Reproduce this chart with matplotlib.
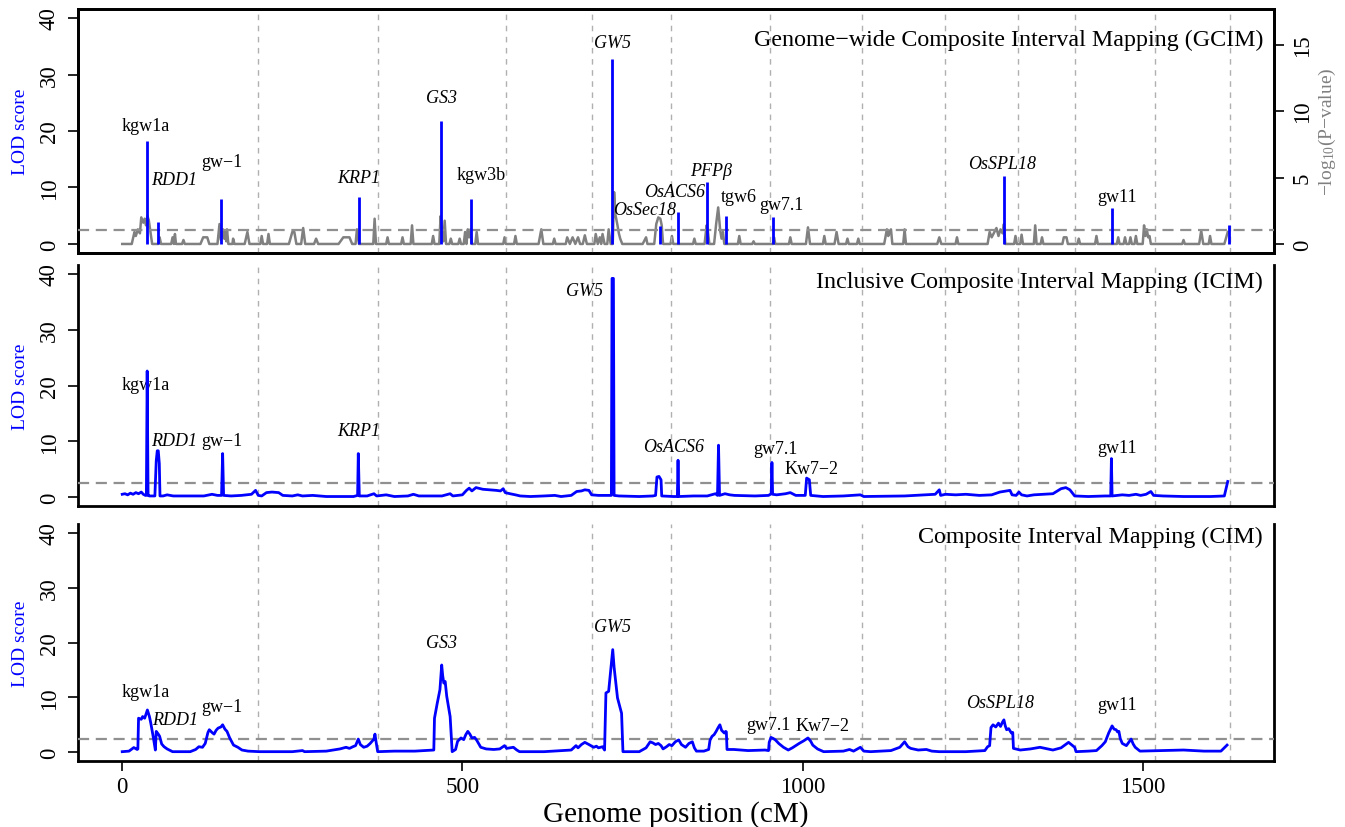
import matplotlib
matplotlib.use('Agg')
import matplotlib.pyplot as plt

plt.rcParams['font.family'] = ['Liberation Serif', 'DejaVu Serif']
plt.rcParams['mathtext.fontset'] = 'custom'
plt.rcParams['mathtext.rm'] = 'Liberation Serif'
plt.rcParams['mathtext.it'] = 'Liberation Serif:italic'

# chromosome ends (cM), dashed separators
chrom_ends = [200, 376, 564, 691, 807, 952, 1087, 1209, 1316, 1401, 1518, 1628]
threshold = 2.5

# GCIM: QTL LOD (blue sticks)
gcim_qtl_pos = [36.8, 53, 145.6, 348.5, 469, 512, 720.6, 791, 817.6, 859, 888, 956, 1296, 1454.6, 1627]
gcim_qtl_lod = [18.2, 3.9, 8.0, 8.4, 21.8, 7.9, 32.8, 3.2, 5.7, 10.9, 5.0, 4.7, 12.1, 6.4, 3.3]

# GCIM: -log10(P) profile (grey, right axis)
gcim_prof_pos = [0, 14, 18, 20, 23, 26, 28, 31, 33, 35, 37, 39, 41, 44, 53, 55, 57, 72, 74, 76, 77.5, 79,
                 88, 90, 92, 115, 119, 125, 128, 140, 143, 145, 148, 150, 151, 153, 154, 156, 162, 163, 165,
                 180, 184, 187, 203, 205, 207, 213, 215, 217, 245, 250, 253, 256, 263, 266, 269, 282, 285, 288,
                 318, 325, 334, 338, 343, 345, 348, 369, 371, 373, 388, 390, 392, 410, 412, 414, 424, 426, 428,
                 455, 457, 459, 466, 468, 470, 472, 474, 476, 481, 483, 485, 494, 496, 498, 502, 504, 506, 508,
                 510, 512, 514, 519, 521, 523, 560, 562, 564, 576, 578, 580, 612, 616, 619, 633, 635, 637, 652,
                 654, 658, 662, 666, 670, 673, 677, 680, 683, 694, 696, 699, 702, 704, 706, 709, 713, 715, 718,
                 721, 723, 725, 728, 730, 732, 735, 765, 770, 772, 782, 785, 788, 791, 793, 795, 806, 808, 810,
                 839, 841, 843, 856, 859, 861, 863, 870, 873, 876, 879, 881, 883, 885, 905, 907, 909, 926, 928,
                 930, 957, 958, 960, 980, 982, 984, 1005, 1008, 1011, 1030, 1032, 1034, 1047, 1050, 1053, 1064,
                 1066, 1068, 1080, 1082, 1084, 1120, 1124, 1126, 1128, 1130, 1132, 1148, 1150, 1152, 1198, 1201,
                 1204, 1225, 1227, 1229, 1272, 1275, 1278, 1282, 1285, 1288, 1291, 1294, 1296, 1298, 1311, 1313,
                 1315, 1320, 1322, 1324, 1340, 1342, 1344, 1350, 1352, 1354, 1382, 1384, 1388, 1390, 1404, 1406,
                 1408, 1430, 1432, 1434, 1462, 1464, 1466, 1472, 1474, 1476, 1480, 1482, 1484, 1488, 1490, 1492,
                 1500, 1502, 1504, 1506, 1508, 1510, 1512, 1558, 1560, 1562, 1583, 1586, 1589, 1597, 1599, 1601,
                 1620, 1625]
gcim_prof_logp = [0, 0, 0.9, 0.6, 1.1, 0.8, 2.0, 1.6, 1.9, 1.4, 2.1, 1.8, 1.1, 0, 0, 0.5, 0, 0, 0.5, 0, 0.75, 0,
                  0, 0.3, 0, 0, 0.5, 0.5, 0, 0, 1.5, 0.3, 1.1, 0.4, 0.9, 0.2, 1.1, 0, 0, 0.4, 0,
                  0, 0.9, 0, 0, 0.6, 0, 0, 0.75, 0, 0, 0.9, 0.9, 0, 0, 1.2, 0, 0, 0.4, 0,
                  0, 0.5, 0.5, 0, 0, 1.1, 0, 0, 1.9, 0, 0, 0.5, 0, 0, 0.5, 0, 0, 1.4, 0,
                  0, 0.6, 0, 0, 2.1, 1.0, 0.2, 1.75, 0, 0, 0.4, 0, 0, 0.4, 0, 0, 0.9, 0, 1.1,
                  0.5, 1.1, 0, 0, 0.9, 0, 0, 0.5, 0, 0, 0.6, 0, 0, 1.1, 0, 0, 0.4, 0, 0,
                  0.5, 0, 0.5, 0, 0.5, 0, 0, 0.65, 0, 0, 0.75, 0, 0.5, 0, 0.75, 0, 0, 1.1, 0,
                  0, 3.9, 2.2, 1.4, 0.8, 0.4, 0, 0, 0.5, 0, 0, 1.5, 2.0, 1.9, 1.4, 0, 0, 0.6, 0,
                  0, 0.4, 0, 0, 1.4, 0.9, 0, 0, 1.5, 2.75, 1.0, 0.4, 0.9, 0, 0, 0.6, 0, 0, 0.2,
                  0, 0, 0.5, 0, 0, 0.5, 0, 0, 1.25, 0, 0, 0.6, 0, 0, 0.9, 0, 0,
                  0.4, 0, 0, 0.4, 0, 0, 1.1, 0.6, 0.9, 1.1, 0, 0, 1.1, 0, 0, 0.5,
                  0, 0, 0.5, 0, 0, 0.9, 0.5, 0.9, 1.2, 0.6, 1.1, 0.8, 1.5, 0, 0, 0.6,
                  0, 0, 0.7, 0, 0, 1.4, 0, 0, 0.5, 0, 0, 0.5, 0.5, 0, 0, 0.4,
                  0, 0, 0.6, 0, 0, 0.5, 0, 0, 0.5, 0, 0, 0.5, 0, 0, 0.6, 0,
                  0, 1.4, 0.6, 1.1, 0.5, 0.6, 0, 0, 0.3, 0, 0, 1.0, 0, 0, 0.6, 0,
                  0, 0.9]

# ICIM LOD profile
icim_pos = [0, 4, 8, 12, 16, 20, 24, 28, 31, 34, 35.5, 36.7, 38, 40, 48, 50, 51.5, 53, 54.5, 55.5, 60, 66,
            75, 90, 120, 132, 140, 146, 147.6, 149, 160, 175, 190, 196, 200, 205, 212, 220, 230, 236, 250,
            258, 265, 280, 300, 340, 346, 347, 348.5, 360, 370, 374, 388, 400, 420, 428, 436, 470, 482, 486,
            500, 506, 510, 514, 520, 530, 540, 550, 556, 560, 563, 570, 578, 585, 600, 620, 636, 645, 660,
            668, 675, 680, 686, 690, 700, 715, 719, 720, 722, 723, 730, 760, 780, 784, 786, 789, 792, 793,
            810, 816, 817, 818, 840, 860, 872, 875, 876.5, 878, 886, 893, 900, 930, 950, 954, 955, 956, 962,
            975, 982, 990, 1004, 1006, 1010, 1012, 1030, 1060, 1085, 1090, 1150, 1195, 1201, 1203, 1210,
            1225, 1240, 1260, 1278, 1290, 1305, 1308, 1314, 1318, 1322, 1330, 1340, 1355, 1368, 1380, 1387,
            1393, 1400, 1420, 1445, 1453, 1454, 1455, 1470, 1480, 1490, 1497, 1505, 1512, 1516, 1530, 1560,
            1600, 1620, 1625]
icim_lod = [0.5, 0.6, 0.4, 0.7, 0.5, 0.8, 0.6, 0.9, 0.5, 0.3, 0.3, 22.6, 0.3, 0.2, 0.2, 6.5, 8.3, 8.3, 6.0, 0.2, 0.2, 0.4,
            0.2, 0.2, 0.2, 0.5, 0.3, 0.3, 7.8, 0.3, 0.2, 0.3, 0.5, 1.2, 0.3, 0.2, 0.8, 0.9, 0.8, 0.3, 0.2,
            0.4, 0.2, 0.3, 0.1, 0.1, 0.3, 7.8, 0.2, 0.2, 0.6, 0.2, 0.4, 0.1, 0.2, 0.5, 0.2, 0.2, 0.6, 0.2,
            0.4, 1.2, 1.6, 1.1, 1.7, 1.4, 1.3, 1.2, 1.1, 1.5, 0.8, 0.6, 0.4, 0.2, 0.1, 0.2, 0.3, 0.1, 0.3,
            1.0, 1.1, 1.3, 1.2, 0.4, 0.3, 0.3, 0.3, 39.2, 39.2, 0.3, 0.2, 0.1, 0.2, 0.3, 3.6, 3.7, 3.1, 0.2,
            0.1, 0.1, 6.6, 0.1, 0.2, 0.2, 0.6, 0.3, 9.3, 0.3, 0.6, 0.4, 0.3, 0.2, 0.3, 0.6, 6.2, 0.5, 0.4,
            0.6, 0.8, 0.3, 0.3, 3.4, 3.1, 0.3, 0.1, 0.2, 0.4, 0.1, 0.2, 0.5, 1.3, 0.3, 0.5,
            0.4, 0.5, 0.3, 0.4, 0.9, 1.2, 0.4, 0.3, 0.9, 0.4, 0.2, 0.4, 0.5, 0.6, 1.5, 1.7,
            1.3, 0.2, 0.1, 0.2, 0.2, 6.9, 0.2, 0.4, 0.3, 0.5, 0.3, 0.5, 1.0, 0.3, 0.2, 0.1,
            0.1, 0.2, 2.8]

# CIM LOD profile
cim_pos = [0, 10, 17, 22, 23, 24, 28, 30, 33, 37, 40, 42, 46, 48.7, 50, 53, 55, 58, 61.5, 66, 74, 100, 108,
           112.6, 118, 122, 126, 128, 132, 135, 138, 141, 145, 147.6, 151, 154, 158, 163.6, 170, 176, 185,
           202, 250, 265, 268, 300, 320, 329, 334, 339, 343, 347, 350, 355, 360, 364.5, 370, 371.5, 373,
           375.5, 400, 430, 458, 459, 463, 467, 469.6, 471, 472.7, 474.7, 477, 480, 482, 485, 490, 493, 495,
           498, 502, 505, 508, 511, 514, 518, 521, 527, 535, 546, 555, 562, 565, 570, 575, 580, 584, 620,
           660, 667, 670, 675, 680, 686, 693, 697, 700, 706, 709, 711, 715, 718, 721, 723, 725, 728, 731,
           734, 736, 760, 770, 776, 780, 784, 788, 792, 795, 800, 804, 808, 813, 818, 822, 828, 833, 838,
           841, 844, 855, 862, 864, 867, 870, 873, 876, 878.5, 881, 885, 887, 888, 889, 899, 920, 945, 950,
           951, 953.6, 957, 960, 965, 972, 979, 985, 995, 1002, 1008, 1012, 1015, 1022, 1031, 1060, 1069,
           1075, 1085, 1090, 1100, 1130, 1143, 1150, 1155, 1159, 1170, 1182, 1190, 1201, 1240, 1268, 1272,
           1275, 1277, 1280, 1284, 1288, 1291, 1294, 1296, 1298, 1300, 1303, 1307, 1309, 1310, 1320, 1335,
           1349, 1360, 1368, 1380, 1391, 1397, 1400, 1402, 1420, 1432, 1440, 1445, 1450, 1455, 1458, 1461,
           1463, 1465, 1467, 1470, 1476, 1483, 1486, 1489, 1496, 1530, 1560, 1590, 1615, 1620, 1624]
cim_lod = [0.1, 0.2, 0.85, 0.5, 0.6, 6.2, 6.0, 6.5, 6.2, 7.7, 6.5, 5.3, 2.5, 0.4, 3.8, 3.3, 2.9, 1.5, 1.0, 0.6, 0.1, 0.1, 0.5,
           1.0, 0.9, 1.6, 3.6, 4.1, 3.6, 3.3, 4.0, 4.4, 4.6, 5.0, 4.2, 3.8, 2.6, 1.3, 0.9, 0.4, 0.2,
           0.1, 0.1, 0.3, 0.1, 0.2, 0.6, 0.9, 0.7, 1.0, 1.2, 2.4, 1.4, 0.9, 1.1, 1.6, 2.4, 3.3, 2.0,
           0.1, 0.2, 0.2, 0.4, 6.2, 8.9, 11.4, 15.9, 14.0, 12.6, 12.9, 10.2, 8.0, 6.5, 0.1, 0.5, 2.0, 2.25,
           2.6, 2.3, 3.2, 3.8, 3.3, 2.6, 2.7, 2.2, 0.9, 0.6, 0.5, 0.6, 1.2, 0.7, 0.8, 0.9, 0.4, 0.1, 0.1,
           0.4, 1.2, 0.8, 1.4, 1.8, 1.4, 0.9, 1.1, 0.8, 1.0, 0.4, 10.8, 11.1, 15.0, 18.7, 15.5, 13.2, 9.9, 8.5,
           7.1, 0.1, 0.1, 0.8, 1.9, 1.7, 1.4, 1.6, 1.2, 0.6, 1.0, 1.4, 1.2, 1.9, 2.25, 1.4, 0.9, 1.6, 1.9,
           0.8, 0.2, 0.2, 0.5, 2.2, 2.9, 3.2, 3.8, 4.5, 5.0, 4.0, 3.5, 3.8, 3.7, 0.5, 0.5, 0.3, 0.4, 0.3,
           1.8, 2.7, 2.5, 2.25, 1.6, 0.9, 0.4, 0.8, 1.6, 2.1, 2.6, 2.0, 1.3, 0.6, 0.1, 0.2, 0.5,
           0.2, 0.9, 0.2, 0.1, 0.3, 0.9, 1.9, 1.0, 0.7, 0.4, 0.5, 0.2, 0.1, 0.1, 0.3, 1.0,
           1.2, 4.5, 5.0, 4.6, 5.3, 4.7, 5.5, 5.9, 4.8, 4.1, 4.3, 3.5, 3.6, 0.7, 0.4, 0.6,
           0.9, 0.6, 0.4, 0.8, 1.8, 1.2, 0.9, 0.1, 0.2, 0.3, 1.2, 1.9, 3.5, 4.8, 4.2, 4.1,
           3.7, 3.8, 2.5, 1.6, 1.2, 2.4, 1.5, 0.9, 0.2, 0.3, 0.4, 0.2, 0.2, 0.8, 1.3]

# gene / QTL labels: (text, x cM, y LOD, italic)
gcim_labels = [('kgw1a', 35, 20.9, False), ('RDD1', 76, 11.4, True), ('gw\u22121', 146, 14.6, False),
               ('KRP1', 348, 11.8, True), ('GS3', 469, 26.0, True), ('kgw3b', 528, 12.3, False),
               ('GW5', 720, 35.7, True), ('OsSec18', 768, 6.1, True), ('OsACS6', 812, 9.3, True),
               ('PFP\u03b2', 865, 13.0, True), ('tgw6', 907, 8.4, False), ('gw7.1', 969, 7.0, False),
               ('OsSPL18', 1294, 14.3, True), ('gw11', 1462, 8.4, False)]
icim_labels = [('kgw1a', 34, 20.1, False), ('RDD1', 76, 10.2, True), ('gw\u22121', 146, 10.2, False),
               ('KRP1', 348, 12.0, True), ('GW5', 679, 37.0, True), ('OsACS6', 810, 9.1, True),
               ('gw7.1', 960, 8.7, False), ('Kw7\u22122', 1013, 5.2, False), ('gw11', 1462, 8.9, False)]
cim_labels = [('kgw1a', 34, 11.0, False), ('RDD1', 78, 5.9, True), ('gw\u22121', 146, 8.3, False),
              ('GS3', 470, 20.0, True), ('GW5', 720, 23.0, True), ('gw7.1', 950, 5.0, False),
              ('Kw7\u22122', 1029, 4.8, False), ('OsSPL18', 1291, 9.0, True), ('gw11', 1462, 8.7, False)]

W, H = 1345, 828
fig = plt.figure(figsize=(W / 100, H / 100), dpi=100)


def make_axes(top_px, bottom_px):
    left, right = 78, 1274
    return fig.add_axes([left / W, 1 - bottom_px / H, (right - left) / W, (bottom_px - top_px) / H])


def rot_ticks(ax, size):
    ax.tick_params(axis='y', labelsize=size, length=7, width=1.2, pad=6)
    for lab in ax.get_yticklabels():
        lab.set_rotation(90)
        lab.set_va('center')


def style(ax, title, title_y, labels, top=False):
    ax.set_xlim(-65, 1693)
    ax.set_ylim(-1.6, 41.6)
    for x in chrom_ends:
        ax.axvline(x, color='#b0b0b0', lw=1.0, ls=(0, (4, 4)), zorder=0)
    ax.axhline(threshold, color='#909090', lw=1.6, ls=(0, (5, 3)), zorder=3)
    ax.set_yticks([0, 10, 20, 30, 40])
    rot_ticks(ax, 16.5)
    ax.set_ylabel('LOD score', color='blue', fontsize=14, labelpad=7)
    for s in ['left', 'right', 'bottom']:
        ax.spines[s].set_linewidth(2.0)
    ax.spines['top'].set_visible(top)
    ax.spines['top'].set_linewidth(2.0)
    ax.text(1677, title_y, title, ha='right', va='center', fontsize=17.3)
    for txt, x, y, it in labels:
        ax.text(x, y, txt, ha='center', va='center', fontsize=13,
                style='italic' if it else 'normal')


# GCIM panel
ax1 = make_axes(10, 254)
tw = ax1.twinx()
tw.plot(gcim_prof_pos, gcim_prof_logp, color='#808080', lw=1.8)
tw.set_ylim(-17 * 0.04, 17 * 1.04)
tw.set_yticks([0, 5, 10, 15])
rot_ticks(tw, 16.5)
tw.set_ylabel(r'$-$log$_{10}$(P$-$value)', color='#808080', fontsize=14, labelpad=3)
ax1.set_zorder(tw.get_zorder() + 1)
ax1.patch.set_visible(False)
ax1.vlines(gcim_qtl_pos, 0, gcim_qtl_lod, color='blue', lw=2.0, zorder=4)
style(ax1, 'Genome\u2212wide Composite Interval Mapping (GCIM)', 36.3, gcim_labels, top=True)
for s in tw.spines.values():
    s.set_linewidth(2.0)
ax1.set_xticks([])

# ICIM panel
ax2 = make_axes(266, 507)
ax2.plot(icim_pos, icim_lod, color='blue', lw=2.0, zorder=4)
style(ax2, 'Inclusive Composite Interval Mapping (ICIM)', 38.6, icim_labels)
ax2.set_xticks([])

# CIM panel
ax3 = make_axes(525, 762)
ax3.plot(cim_pos, cim_lod, color='blue', lw=2.0, zorder=4)
style(ax3, 'Composite Interval Mapping (CIM)', 39.3, cim_labels)
ax3.set_xticks([0, 500, 1000, 1500])
ax3.tick_params(axis='x', labelsize=16.5, length=7, width=1.2, pad=4)
ax3.set_xlabel('Genome position (cM)', fontsize=21, labelpad=2)

fig.savefig('out.png', dpi=100)
